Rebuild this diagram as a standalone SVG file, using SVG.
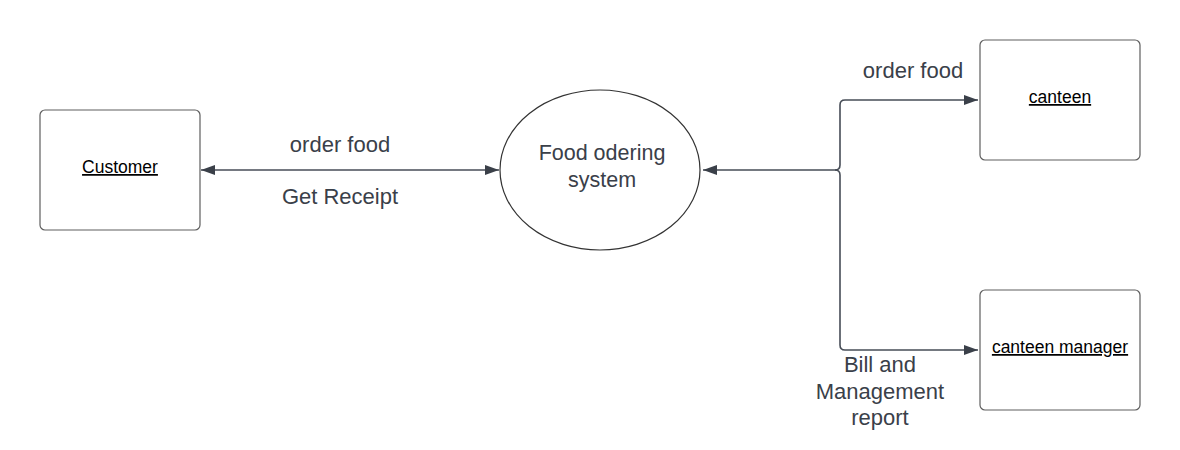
<svg xmlns="http://www.w3.org/2000/svg" width="1180" height="450" viewBox="0 0 1180 450">
<style>
.box{fill:#fff;stroke:#5e5e5e;stroke-width:1.2}
.conn{fill:none;stroke:#474d57;stroke-width:1.6}
.lbl{font-family:"Liberation Sans",Arial,sans-serif;font-size:22px;fill:#3a4049;text-anchor:middle}
.el{font-size:21.5px}
.nt{font-family:"Liberation Sans",Arial,sans-serif;font-size:17.5px;fill:#000;text-anchor:middle;text-decoration:underline}
</style>
<defs>
<marker id="ah" viewBox="0 0 14 10" refX="14" refY="5" markerWidth="14" markerHeight="10" markerUnits="userSpaceOnUse" orient="auto-start-reverse">
<path d="M0,0 L14,5 L0,10 Z" fill="#3a4049"/>
</marker>
</defs>
<rect width="1180" height="450" fill="#fff"/>
<g id="customer">
<rect class="box" x="40" y="110" width="160" height="120" rx="5"/>
<text class="nt" x="120" y="173">Customer</text>
</g>
<g id="system">
<ellipse cx="600" cy="170" rx="100" ry="80" fill="#fff" stroke="#333" stroke-width="1.2"/>
<text class="lbl el" x="602" y="160">Food odering</text>
<text class="lbl el" x="602" y="187">system</text>
</g>
<g id="canteen">
<rect class="box" x="980" y="40" width="160" height="120" rx="5"/>
<text class="nt" x="1060" y="103">canteen</text>
</g>
<g id="manager">
<rect class="box" x="980" y="290" width="160" height="120" rx="5"/>
<text class="nt" x="1060" y="353">canteen manager</text>
</g>
<g id="connectors">
<path class="conn" d="M201,170 H499" marker-start="url(#ah)" marker-end="url(#ah)"/>
<path class="conn" d="M703,170 H835 Q840,170 840,165 V105 Q840,100 845,100 H978" marker-start="url(#ah)" marker-end="url(#ah)"/>
<path class="conn" d="M835,170 Q840,170 840,175 V345 Q840,350 845,350 H978" marker-end="url(#ah)"/>
<text class="lbl" x="340" y="152">order food</text>
<text class="lbl" x="340" y="204">Get Receipt</text>
<text class="lbl" x="913" y="78">order food</text>
<text class="lbl" x="880" y="372">Bill and</text>
<text class="lbl" x="880" y="399">Management</text>
<text class="lbl" x="880" y="425">report</text>
</g>
</svg>
